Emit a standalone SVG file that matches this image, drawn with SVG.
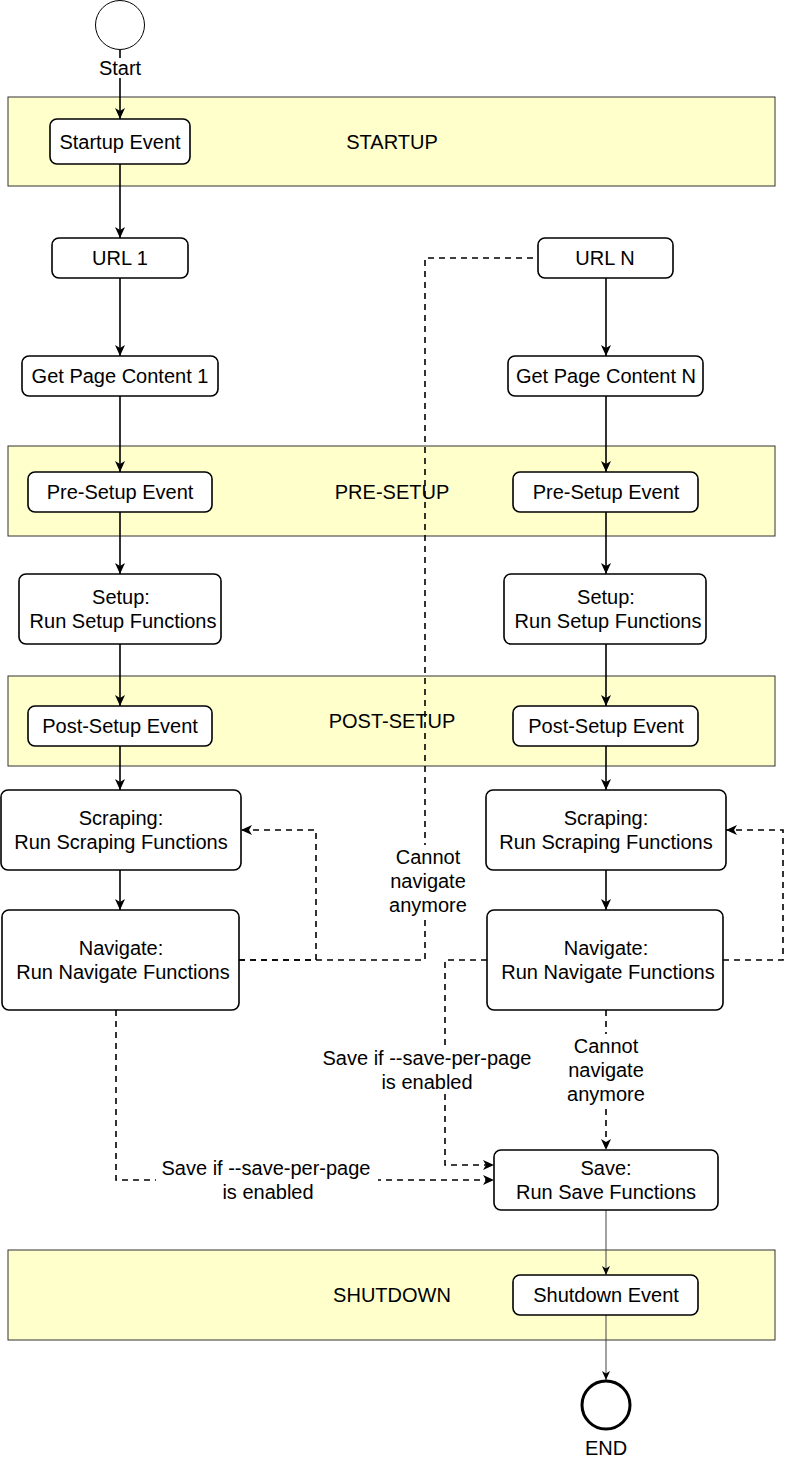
<svg xmlns="http://www.w3.org/2000/svg" width="795" height="1462" viewBox="0 0 795 1462">
<style>
text{font-family:"Liberation Sans",Arial,sans-serif;font-size:20px;fill:#000;text-anchor:middle}
.band{fill:#ffffcc;stroke:#333;stroke-width:1}
.box{fill:#fff;stroke:#000;stroke-width:1.6}
.ln{fill:none;stroke:#000;stroke-width:1.6}
.thin{fill:none;stroke:#444;stroke-width:1}
.dash{fill:none;stroke:#000;stroke-width:1.6;stroke-dasharray:6 5}
.bg{fill:#fff}
</style>
<defs>
<marker id="arr" markerUnits="userSpaceOnUse" markerWidth="12" markerHeight="12" refX="11" refY="5" orient="auto"><path d="M0,0 L11,5 L0,10 L3,5 z" fill="#000"/></marker>
<marker id="arrs" markerUnits="userSpaceOnUse" markerWidth="10" markerHeight="10" refX="9" refY="4" orient="auto"><path d="M0,0 L9,4 L0,8 L2.5,4 z" fill="#000"/></marker>
</defs>

<g id="band-startup"><rect class="band" x="8" y="97" width="767" height="89"/><text x="392" y="149">STARTUP</text></g>
<g id="band-presetup"><rect class="band" x="8" y="446" width="767" height="90"/><text x="392" y="499">PRE-SETUP</text></g>
<g id="band-postsetup"><rect class="band" x="8" y="676" width="767" height="90"/><text x="392" y="728">POST-SETUP</text></g>
<g id="band-shutdown"><rect class="band" x="8" y="1250" width="767" height="90"/><text x="392" y="1302">SHUTDOWN</text></g>

<g id="connectors">
<path class="ln" d="M120,50 V119" marker-end="url(#arr)"/>
<path class="ln" d="M120,164 V238" marker-end="url(#arr)"/>
<path class="ln" d="M120,278 V356" marker-end="url(#arr)"/>
<path class="ln" d="M120,396 V472" marker-end="url(#arr)"/>
<path class="ln" d="M120,512 V574" marker-end="url(#arr)"/>
<path class="ln" d="M120,644 V706" marker-end="url(#arr)"/>
<path class="ln" d="M120,746 V790" marker-end="url(#arr)"/>
<path class="ln" d="M120,870 V910" marker-end="url(#arr)"/>
<path class="ln" d="M606,278 V356" marker-end="url(#arr)"/>
<path class="ln" d="M606,396 V472" marker-end="url(#arr)"/>
<path class="ln" d="M606,512 V574" marker-end="url(#arr)"/>
<path class="ln" d="M606,644 V706" marker-end="url(#arr)"/>
<path class="ln" d="M606,746 V790" marker-end="url(#arr)"/>
<path class="ln" d="M606,870 V910" marker-end="url(#arr)"/>
<path class="thin" d="M606,1210 V1275" marker-end="url(#arrs)"/>
<path class="thin" d="M606,1315 V1380" marker-end="url(#arrs)"/>
<path class="dash" d="M239,960 H316 V830 H241" marker-end="url(#arr)"/>
<path class="dash" d="M239,960 H425 V258 H538"/>
<path class="dash" d="M723,960 H783 V830 H726" marker-end="url(#arr)"/>
<path class="dash" d="M487,960 H445 V1165 H494" marker-end="url(#arr)"/>
<path class="dash" d="M606,1010 V1150" marker-end="url(#arr)"/>
<path class="dash" d="M116,1010 V1180 H494" marker-end="url(#arr)"/>
<g id="labels">
<rect class="bg" x="103" y="58" width="34" height="20"/>
<text x="120" y="75">Start</text>
<rect class="bg" x="386" y="845" width="84" height="72"/>
<text x="428" y="864">Cannot</text><text x="428" y="888">navigate</text><text x="428" y="912">anymore</text>
<rect class="bg" x="564" y="1034" width="84" height="72"/>
<text x="606" y="1053">Cannot</text><text x="606" y="1077">navigate</text><text x="606" y="1101">anymore</text>
<rect class="bg" x="320" y="1046" width="214" height="48"/>
<text x="427" y="1065">Save if --save-per-page</text><text x="427" y="1089">is enabled</text>
<rect class="bg" x="156" y="1156" width="222" height="48"/>
<text x="266" y="1175">Save if --save-per-page</text><text x="268" y="1199">is enabled</text>
</g>
</g>

<g id="start"><circle cx="120" cy="25" r="24.5" fill="#fff" stroke="#000" stroke-width="1"/></g>
<g id="startup-event"><rect class="box" x="50" y="119" width="140" height="45" rx="7"/><text x="120" y="149">Startup Event</text></g>
<g id="url1"><rect class="box" x="52" y="238" width="136" height="40" rx="7"/><text x="120" y="265">URL 1</text></g>
<g id="urln"><rect class="box" x="538" y="238" width="135" height="40" rx="7"/><text x="605" y="265">URL N</text></g>
<g id="gpc1"><rect class="box" x="22" y="356" width="196" height="40" rx="7"/><text x="120" y="383">Get Page Content 1</text></g>
<g id="gpcn"><rect class="box" x="508" y="356" width="195" height="40" rx="7"/><text x="606" y="383">Get Page Content N</text></g>
<g id="pre1"><rect class="box" x="28" y="472" width="184" height="40" rx="7"/><text x="120" y="499">Pre-Setup Event</text></g>
<g id="pren"><rect class="box" x="513" y="472" width="185" height="40" rx="7"/><text x="606" y="499">Pre-Setup Event</text></g>
<g id="setup1"><rect class="box" x="19" y="574" width="202" height="70" rx="7"/><text x="121" y="604">Setup:</text><text x="123" y="628">Run Setup Functions</text></g>
<g id="setupn"><rect class="box" x="504" y="574" width="202" height="70" rx="7"/><text x="606" y="604">Setup:</text><text x="608" y="628">Run Setup Functions</text></g>
<g id="post1"><rect class="box" x="28" y="706" width="184" height="40" rx="7"/><text x="120" y="733">Post-Setup Event</text></g>
<g id="postn"><rect class="box" x="513" y="706" width="185" height="40" rx="7"/><text x="606" y="733">Post-Setup Event</text></g>
<g id="scrape1"><rect class="box" x="1" y="790" width="240" height="80" rx="7"/><text x="121" y="825">Scraping:</text><text x="121" y="849">Run Scraping Functions</text></g>
<g id="scrapen"><rect class="box" x="486" y="790" width="240" height="80" rx="7"/><text x="606" y="825">Scraping:</text><text x="606" y="849">Run Scraping Functions</text></g>
<g id="nav1"><rect class="box" x="2" y="910" width="237" height="100" rx="7"/><text x="121" y="955">Navigate:</text><text x="123" y="979">Run Navigate Functions</text></g>
<g id="navn"><rect class="box" x="487" y="910" width="236" height="100" rx="7"/><text x="606" y="955">Navigate:</text><text x="608" y="979">Run Navigate Functions</text></g>
<g id="save"><rect class="box" x="494" y="1150" width="224" height="60" rx="7"/><text x="606" y="1175">Save:</text><text x="606" y="1199">Run Save Functions</text></g>
<g id="shutdown-event"><rect class="box" x="513" y="1275" width="185" height="40" rx="7"/><text x="606" y="1302">Shutdown Event</text></g>
<g id="end"><circle cx="606" cy="1405" r="24" fill="#fff" stroke="#000" stroke-width="3"/><text x="606" y="1455">END</text></g>
</svg>
